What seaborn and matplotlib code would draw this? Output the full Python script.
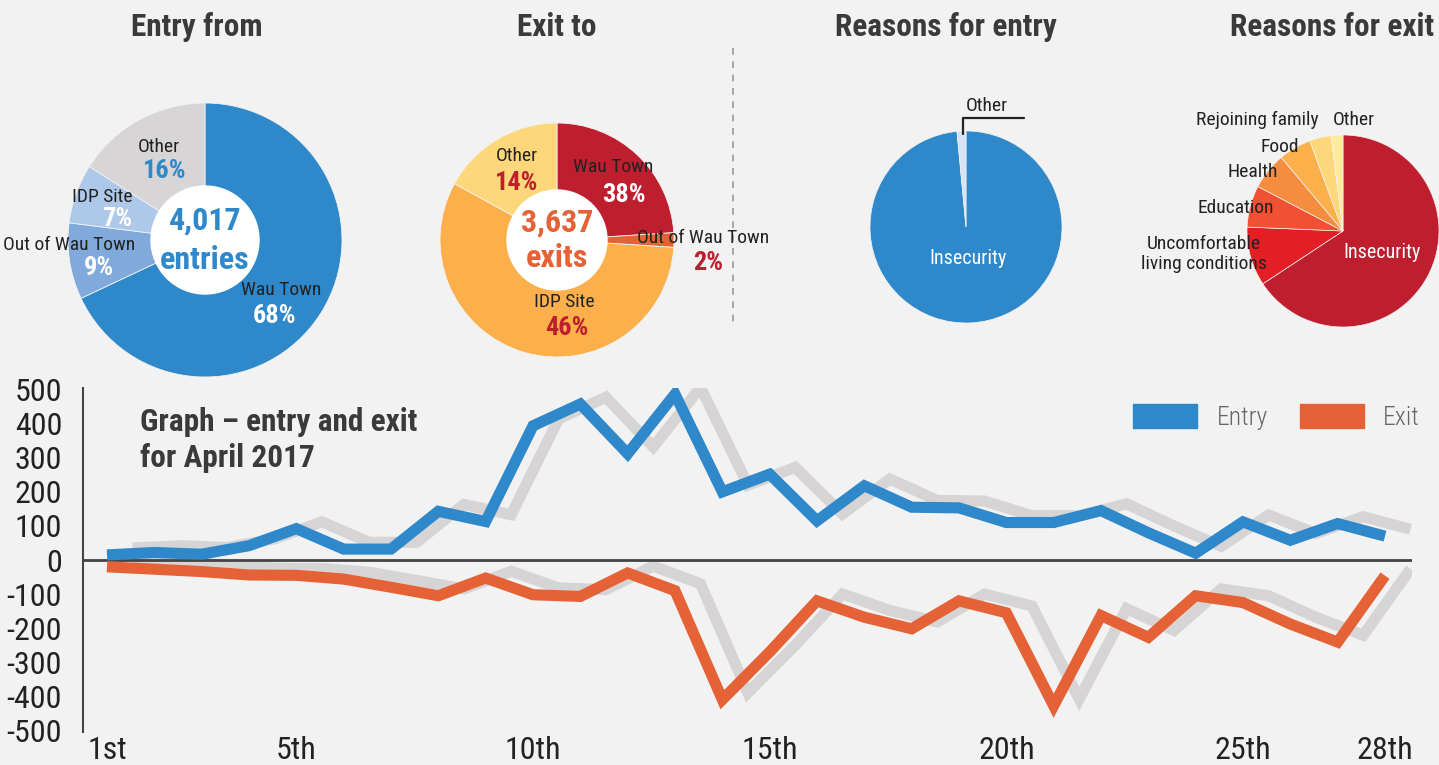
import matplotlib
matplotlib.use("Agg")
import matplotlib.pyplot as plt
import seaborn as sns
import numpy as np
import pandas as pd
from matplotlib.patches import Patch, Circle
from matplotlib.lines import Line2D

# ---------------- data ----------------
days = list(range(1, 29))
entries = [15, 22, 17, 42, 92, 32, 32, 143, 113, 394, 458, 312, 487, 200,
           252, 115, 218, 155, 153, 110, 110, 145, 80, 20, 112, 58, 107, 70]
exits = [-20, -27, -34, -44, -45, -56, -80, -105, -53, -102, -107, -38, -90, -410,
         -270, -120, -168, -202, -120, -155, -428, -163, -227, -105, -125, -188, -241, -46]
tick_days = [1, 5, 10, 15, 20, 25, 28]
tick_labels = ["1st", "5th", "10th", "15th", "20th", "25th", "28th"]
y_ticks = list(range(-500, 501, 100))

entry_from_labels = ["Wau Town", "Out of Wau Town", "IDP Site", "Other"]
entry_from_values = [68, 9, 7, 16]
entry_from_pct = ["68%", "9%", "7%", "16%"]

exit_to_labels = ["Wau Town", "Out of Wau Town", "IDP Site", "Other"]
exit_to_values = [24, 2, 57, 17]          # wedge sizes as drawn
exit_to_pct = ["38%", "2%", "46%", "14%"]  # printed labels

entry_reason_labels = ["Insecurity", "Other"]
entry_reason_values = [98.5, 1.5]

exit_reason_labels = ["Insecurity", "Uncomfortable\nliving conditions", "Education",
                      "Health", "Food", "Rejoining family", "Other"]
exit_reason_values = [65.6, 9.9, 7.0, 6.2, 5.5, 3.6, 2.0]

total_entries = "4,017"
total_exits = "3,637"

# ---------------- style ----------------
BG = "#F2F2F2"
BLUE = "#2E88C9"
ORANGE = "#E56136"
DARKRED = "#BE1E2D"
SHADOW = "#D6D4D5"
TXT = "#222222"
TITLE = "#3A3A3A"

sns.set_theme(style="white")
plt.rcParams['font.family'] = ['Roboto Condensed', 'Roboto', 'DejaVu Sans']
plt.rcParams['font.stretch'] = 'condensed'
plt.rcParams['figure.facecolor'] = BG

W, H = 1439, 765
fig = plt.figure(figsize=(W / 100, H / 100), dpi=100, facecolor=BG)


def fx(x):
    return x / W


def fy(y):
    return 1 - y / H


def text(x, y, s, size=14, color=TXT, weight="normal", ha="center", **kw):
    fig.text(fx(x), fy(y), s, ha=ha, va="center", fontsize=size, color=color,
             fontweight=weight, **kw)


def pie_axes(cx, cy, r):
    ax = fig.add_axes([fx(cx - r), fy(cy + r), 2 * r / W, 2 * r / H])
    return ax


def finish_pie(ax):
    ax.set_xlim(-1, 1)
    ax.set_ylim(-1, 1)
    ax.axis("off")


PCT = 19
BIG = 23
# ---------------- titles ----------------
for (x, s) in [(197, "Entry from"), (557, "Exit to"), (946, "Reasons for entry"),
               (1332, "Reasons for exit")]:
    text(x, 27, s, size=22.5, color=TITLE, weight="bold")

# ---------------- pie 1: entry from ----------------
R1 = 137
ax1 = pie_axes(205, 240, R1)
ax1.pie(entry_from_values, colors=["#2E88C9", "#7FAADB", "#AEC8E9", "#D7D5D6"],
        startangle=90, counterclock=False, radius=1,
        wedgeprops=dict(linewidth=0.6, edgecolor="#F2F2F2"))
ax1.add_patch(Circle((0, 0), 54 / R1, color="white", zorder=5))
finish_pie(ax1)
text(159, 147, entry_from_labels[3])
text(165, 171, entry_from_pct[3], size=PCT, color=BLUE, weight="bold")
text(102, 197, entry_from_labels[2])
text(117, 219, entry_from_pct[2], size=PCT, color="white", weight="bold")
text(69, 245, entry_from_labels[1])
text(99, 268, entry_from_pct[1], size=PCT, color="white", weight="bold")
text(281, 290, entry_from_labels[0])
text(275, 316, entry_from_pct[0], size=PCT, color="white", weight="bold")
text(205, 221, total_entries, size=BIG, color=BLUE, weight="bold")
text(205, 260, "entries", size=BIG, color=BLUE, weight="bold")

# ---------------- pie 2: exit to ----------------
R2 = 117
ax2 = pie_axes(557, 240, R2)
ax2.pie(exit_to_values, colors=["#BE1E2D", "#E56136", "#FBB04C", "#FDD77A"],
        startangle=90, counterclock=False, radius=1,
        wedgeprops=dict(linewidth=0.6, edgecolor="#F2F2F2"))
ax2.add_patch(Circle((0, 0), 50 / R2, color="white", zorder=5))
finish_pie(ax2)
text(517, 156, exit_to_labels[3])
text(517, 183, exit_to_pct[3], size=PCT, color=DARKRED, weight="bold")
text(613, 167, exit_to_labels[0])
text(624, 195, exit_to_pct[0], size=PCT, color="white", weight="bold")
text(703, 238, exit_to_labels[1])
text(708, 263, exit_to_pct[1], size=PCT, color=DARKRED, weight="bold")
text(564, 302, exit_to_labels[2])
text(567, 328, exit_to_pct[2], size=PCT, color=DARKRED, weight="bold")
text(557, 223, total_exits, size=BIG, color=ORANGE, weight="bold")
text(557, 258, "exits", size=BIG, color=ORANGE, weight="bold")

# dashed divider
fig.add_artist(Line2D([fx(733), fx(733)], [fy(48), fy(322)], transform=fig.transFigure,
                      color="#9A9A9A", lw=1.2, ls=(0, (4, 4))))

# ---------------- pie 3: reasons for entry ----------------
R3 = 96
ax3 = pie_axes(966, 227, R3)
ax3.pie(entry_reason_values, colors=["#2E88C9", "#D6E3F4"],
        startangle=90, counterclock=False, radius=1,
        wedgeprops=dict(linewidth=0.5, edgecolor="#F2F2F2"))
finish_pie(ax3)
text(968, 258, entry_reason_labels[0], color="white", size=14.5)
text(987, 106, entry_reason_labels[1])
fig.add_artist(Line2D([fx(963), fx(963), fx(1024)], [fy(134), fy(118), fy(118)],
                      transform=fig.transFigure, color=TXT, lw=1.6))

# ---------------- pie 4: reasons for exit ----------------
R4 = 96
ax4 = pie_axes(1343, 231, R4)
ax4.pie(exit_reason_values,
        colors=["#BE1E2D", "#E31E24", "#F05133", "#F58D40", "#FBB04C", "#FDD77A", "#FFEB9C"],
        startangle=90, counterclock=False, radius=1,
        wedgeprops=dict(linewidth=0.5, edgecolor="#F2F2F2"))
finish_pie(ax4)
text(1382, 253, exit_reason_labels[0], color="white", size=14.5)
text(1204, 254, exit_reason_labels[1], linespacing=1.2)
text(1236, 208, exit_reason_labels[2])
text(1253, 172, exit_reason_labels[3])
text(1280, 147, exit_reason_labels[4])
text(1257, 120, exit_reason_labels[5])
text(1354, 120, exit_reason_labels[6])

# ---------------- line chart ----------------
left_px, right_px, top_px, bot_px = 83, 1412, 388, 732
axl = fig.add_axes([fx(left_px), fy(bot_px), (right_px - left_px) / W, (bot_px - top_px) / H])
axl.set_facecolor(BG)
px_per_day = (1385 - 107) / 27
axl.set_xlim(1 - (107 - left_px) / px_per_day, 28 + (right_px - 1385) / px_per_day)
axl.set_ylim(-505, 505)

df = pd.DataFrame({"day": days, "Entry": entries, "Exit": exits})
shadow_dx, shadow_dy = 0.54, 20
LW = 8.0
for col in ["Entry", "Exit"]:
    sns.lineplot(x=df["day"] + shadow_dx, y=df[col] + shadow_dy, ax=axl, color=SHADOW,
                 lw=LW, solid_joinstyle="miter", solid_capstyle="butt", zorder=1)
axl.axhline(0, color="#444444", lw=2.0, zorder=2)
sns.lineplot(data=df, x="day", y="Entry", ax=axl, color=BLUE, lw=LW,
             solid_joinstyle="miter", solid_capstyle="butt", zorder=3)
sns.lineplot(data=df, x="day", y="Exit", ax=axl, color=ORANGE, lw=LW,
             solid_joinstyle="miter", solid_capstyle="butt", zorder=3)

for s in ["top", "right", "bottom"]:
    axl.spines[s].set_visible(False)
axl.spines["left"].set_color("#444444")
axl.spines["left"].set_linewidth(1.5)
axl.set_yticks(y_ticks)
axl.set_yticklabels([str(v) for v in y_ticks])
axl.set_xticks(tick_days)
axl.set_xticklabels(tick_labels)
axl.tick_params(axis="y", length=0, pad=15, labelsize=23, labelcolor=TXT)
axl.tick_params(axis="x", length=0, pad=3, labelsize=23, labelcolor=TXT)
axl.set_xlabel("")
axl.set_ylabel("")
axl.grid(False)

fig.text(fx(140), fy(407), "Graph – entry and exit\nfor April 2017", ha="left", va="top",
         fontsize=22.5, fontweight="bold", color=TITLE, linespacing=1.25)

axl.legend(handles=[Patch(color=BLUE, label="Entry"), Patch(color=ORANGE, label="Exit")],
           loc="upper right", bbox_to_anchor=(fx(1420), fy(404)), bbox_transform=fig.transFigure,
           ncol=2, frameon=False, handlelength=2.5, handleheight=1.05,
           handletextpad=0.75, columnspacing=1.25, labelcolor="#666666",
           prop=dict(weight="light", size=18.5),
           borderaxespad=0, borderpad=0)

fig.savefig("out.png", dpi=100, facecolor=BG)
